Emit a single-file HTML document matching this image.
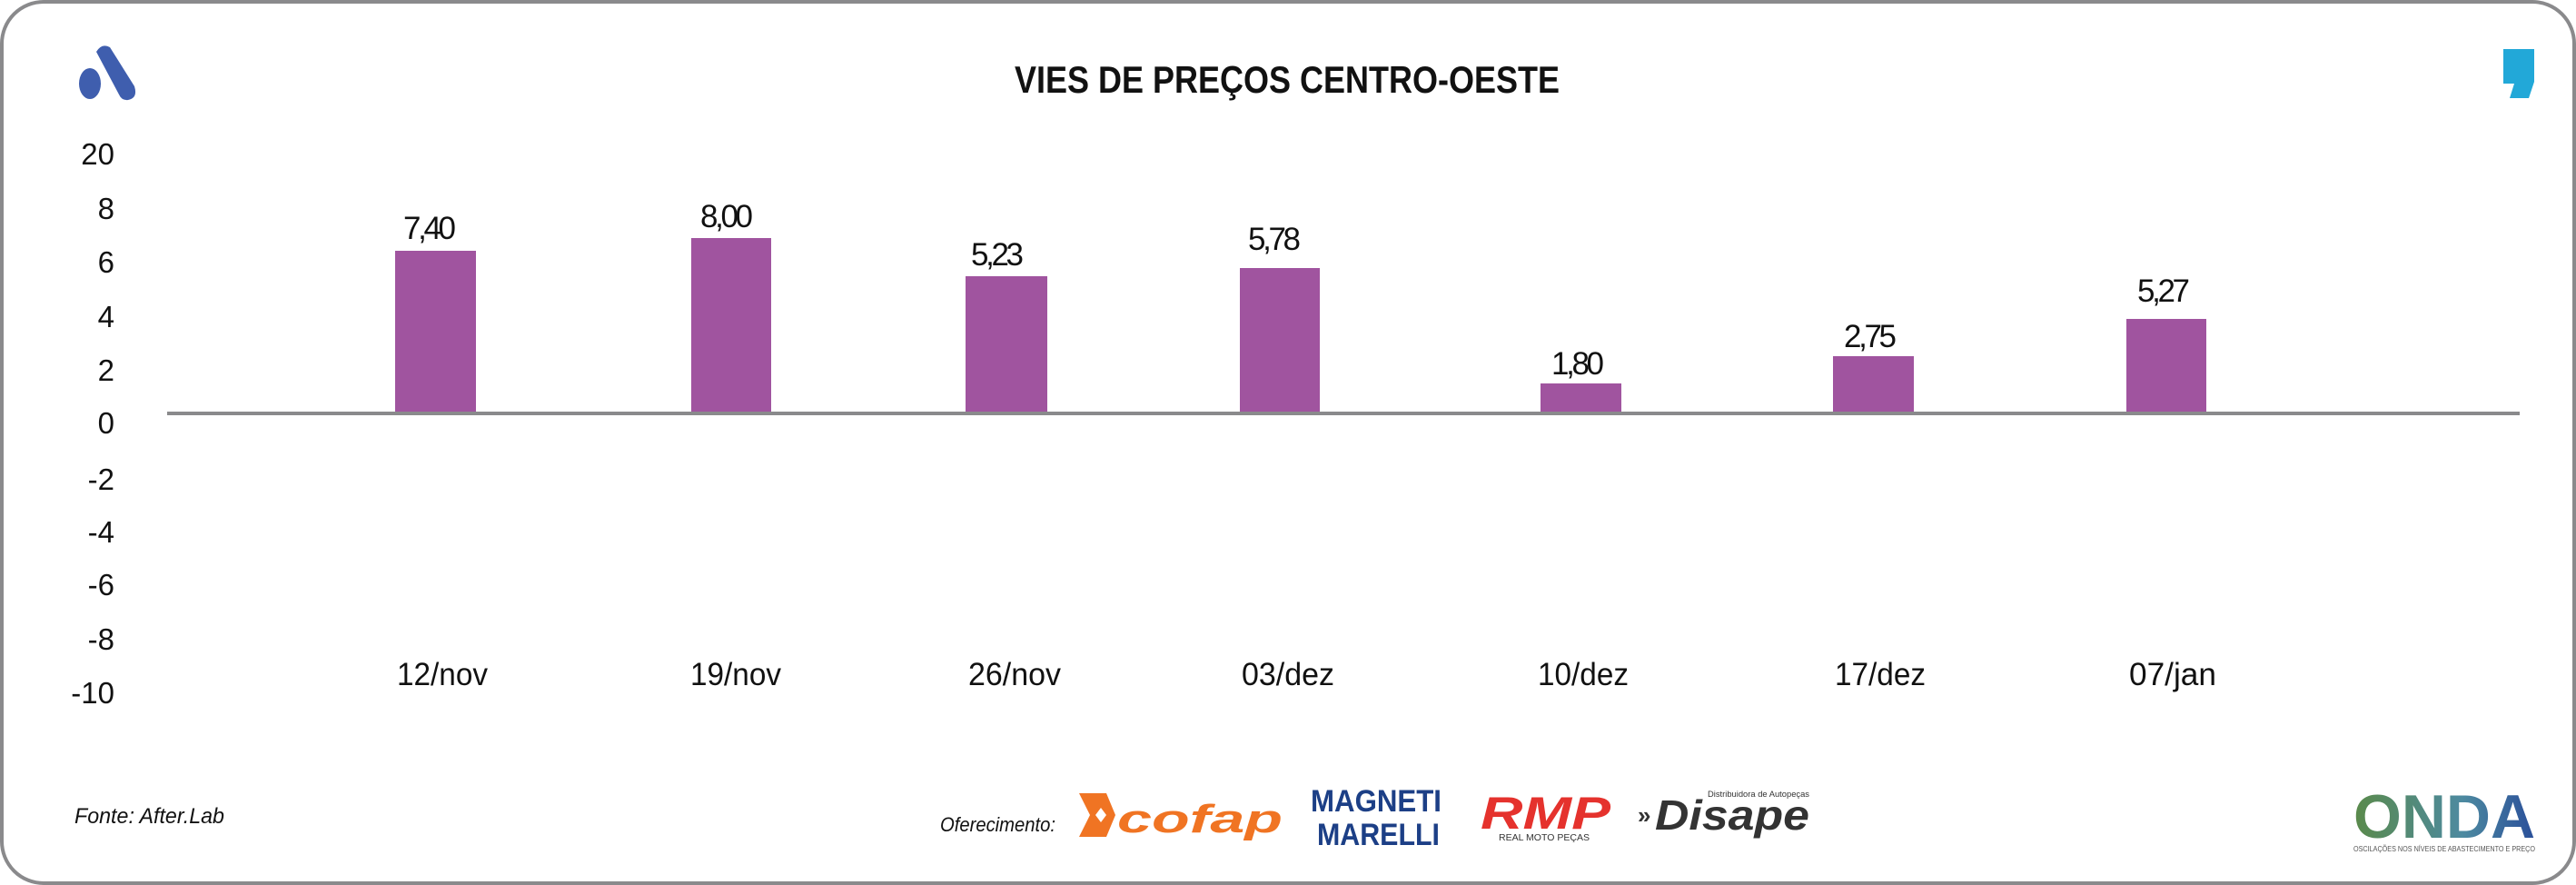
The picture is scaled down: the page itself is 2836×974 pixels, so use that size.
<!DOCTYPE html>
<html><head><meta charset="utf-8"><style>
html,body{margin:0;padding:0;background:#fff}
svg{display:block}
text{font-family:"Liberation Sans",sans-serif;fill:#111}
</style></head><body>
<svg width="2836" height="974" viewBox="0 0 2836 974" xmlns="http://www.w3.org/2000/svg">
<rect x="2" y="2" width="2832" height="970" rx="46" ry="46" fill="#fff" stroke="#8a8a8c" stroke-width="4"/>
<g fill="#3f5eae">
<ellipse cx="99" cy="92" rx="12" ry="17"/>
<path d="M106 57 Q112 47 121 52 L148 95 Q152 108 141 110 Q134 111 131 104 Z"/>
</g>
<path d="M2756 54 L2790 54 L2790 90 L2784 108 L2763 108 L2768 92 L2756 92 Z" fill="#22a8d8"/>
<text x="1117" y="102" font-size="42" font-weight="bold" textLength="600" lengthAdjust="spacingAndGlyphs">VIES DE PREÇOS CENTRO-OESTE</text>
<g font-size="33" text-anchor="end">
<text x="126" y="181">20</text><text x="126" y="241">8</text><text x="126" y="300">6</text>
<text x="126" y="360">4</text><text x="126" y="419">2</text><text x="126" y="477">0</text>
<text x="126" y="539">-2</text><text x="126" y="597">-4</text><text x="126" y="655">-6</text>
<text x="126" y="715">-8</text><text x="126" y="774">-10</text>
</g>
<g fill="#a0549f">
<rect x="435" y="276" width="89" height="179"/>
<rect x="761" y="262" width="88" height="193"/>
<rect x="1063" y="304" width="90" height="151"/>
<rect x="1365" y="295" width="88" height="160"/>
<rect x="1696" y="422" width="89" height="33"/>
<rect x="2018" y="392" width="89" height="63"/>
<rect x="2341" y="351" width="88" height="104"/>
</g>
<rect x="184" y="453" width="2590" height="4" fill="#8a8a8c"/>
<g font-size="35" text-anchor="middle" lengthAdjust="spacingAndGlyphs">
<text x="473" y="263" textLength="58">7,40</text><text x="800" y="250" textLength="58">8,00</text>
<text x="1098" y="292" textLength="58">5,23</text><text x="1403" y="275" textLength="58">5,78</text>
<text x="1737" y="412" textLength="58">1,80</text><text x="2059" y="382" textLength="58">2,75</text>
<text x="2382" y="332" textLength="58">5,27</text>
</g>
<g font-size="35" text-anchor="middle">
<text x="487" y="754" textLength="100" lengthAdjust="spacingAndGlyphs">12/nov</text><text x="810" y="754" textLength="100" lengthAdjust="spacingAndGlyphs">19/nov</text>
<text x="1117" y="754" textLength="102" lengthAdjust="spacingAndGlyphs">26/nov</text><text x="1418" y="754" textLength="102" lengthAdjust="spacingAndGlyphs">03/dez</text>
<text x="1743" y="754" textLength="100" lengthAdjust="spacingAndGlyphs">10/dez</text><text x="2070" y="754" textLength="100" lengthAdjust="spacingAndGlyphs">17/dez</text>
<text x="2392" y="754" textLength="96" lengthAdjust="spacingAndGlyphs">07/jan</text>
</g>
<text x="82" y="906" font-size="24" font-style="italic" textLength="165" lengthAdjust="spacingAndGlyphs">Fonte: After.Lab</text>
<text x="1035" y="915" font-size="22" font-style="italic" textLength="127" lengthAdjust="spacingAndGlyphs">Oferecimento:</text>
<path d="M1188 873 L1218 873 L1228 897 L1218 921 L1188 921 L1200 897 Z M1206 897 L1212 889 L1218 897 L1212 905 Z" fill="#f07423" fill-rule="evenodd"/>
<text x="1230" y="916" font-size="44" font-weight="bold" font-style="italic" style="fill:#f07423" textLength="182" lengthAdjust="spacingAndGlyphs">cofap</text>
<text x="1443" y="893" font-size="34" font-weight="bold" style="fill:#1c3f86" textLength="144" lengthAdjust="spacingAndGlyphs">MAGNETI</text>
<text x="1450" y="930" font-size="34" font-weight="bold" style="fill:#1c3f86" textLength="135" lengthAdjust="spacingAndGlyphs">MARELLI</text>
<text x="1630" y="912" font-size="50" font-weight="bold" font-style="italic" style="fill:#e5322d" textLength="143" lengthAdjust="spacingAndGlyphs">RMP</text>
<text x="1650" y="925" font-size="10" style="fill:#333" textLength="100" lengthAdjust="spacingAndGlyphs">REAL MOTO PEÇAS</text>
<text x="1803" y="906" font-size="26" font-weight="bold" style="fill:#333">»</text>
<text x="1822" y="913" font-size="46" font-weight="bold" font-style="italic" style="fill:#333" textLength="170" lengthAdjust="spacingAndGlyphs">Disape</text>
<text x="1880" y="877" font-size="9" style="fill:#333" textLength="112" lengthAdjust="spacingAndGlyphs">Distribuidora de Autopeças</text>
<defs><linearGradient id="g" x1="0" y1="0" x2="1" y2="0"><stop offset="0" stop-color="#5a8a4a"/><stop offset="0.6" stop-color="#4d8aa0"/><stop offset="1" stop-color="#2a4f9a"/></linearGradient></defs>
<text x="2591" y="922" font-size="68" font-weight="bold" style="fill:url(#g)" textLength="200" lengthAdjust="spacingAndGlyphs">ONDA</text>
<text x="2591" y="937" font-size="8" style="fill:#555" textLength="200" lengthAdjust="spacingAndGlyphs">OSCILAÇÕES NOS NÍVEIS DE ABASTECIMENTO E PREÇO</text>
</svg>
</body></html>
